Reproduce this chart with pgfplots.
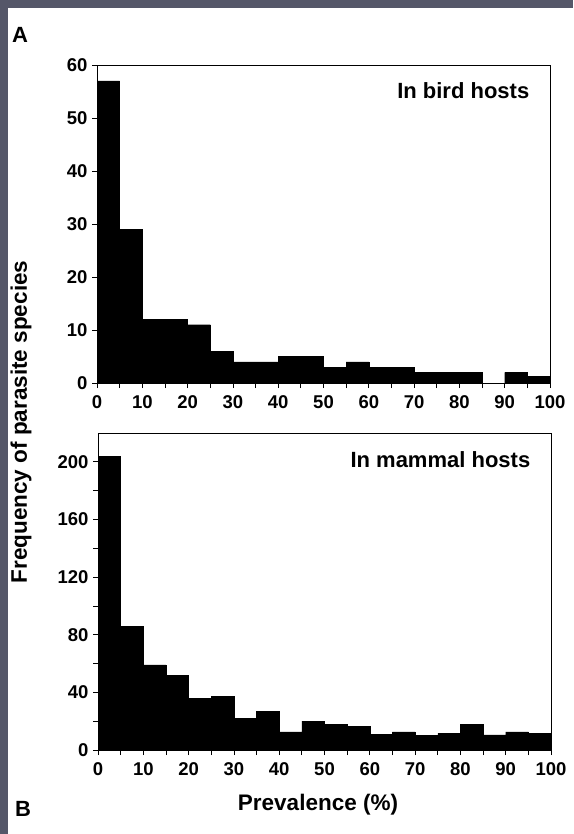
\documentclass[border=0pt]{standalone}
\usepackage{pgfplots}
\pgfplotsset{compat=1.18}
\usepackage{fontspec}
\setmainfont{Liberation Sans}
\definecolor{framegray}{RGB}{85,87,105}
\pgfplotsset{
  hist/.style={
    scale only axis, width=453pt,
    xmin=0, xmax=100, ymin=0,
    xtick={0,10,...,100}, minor xtick={5,15,...,95},
    tick align=outside, xtick pos=bottom, ytick pos=left,
    major tick length=5pt, minor tick length=5pt,
    every tick/.style={black, line width=0.8pt},
    every minor tick/.style={black, line width=0.8pt},
    axis line style={line width=0.9pt},
    tick label style={font=\fontsize{18.5}{18.5}\selectfont\bfseries},
    /pgf/number format/assume math mode=true,
    xticklabel style={yshift=-4pt},
    yticklabel style={xshift=-1pt},
    clip=false,
  }
}
\begin{document}
\begin{tikzpicture}
\fill[framegray] (0,0) rectangle (573pt,-834pt);
\fill[white] (8pt,-8pt) rectangle (573pt,-834pt);
\useasboundingbox (0,0) rectangle (573pt,-834pt);

\begin{axis}[hist, height=318pt, at={(97pt,-383pt)}, anchor=south west,
  ymax=60, ytick={0,10,...,60}]
\addplot[ybar interval, fill=black, draw=black] coordinates {
(0,57) (5,29) (10,12) (15,12) (20,11) (25,6) (30,4) (35,4) (40,5) (45,5)
(50,3) (55,4) (60,3) (65,3) (70,2) (75,2) (80,2) (85,0) (90,2) (95,1.3) (100,1.3)};
\node[anchor=east, font=\fontsize{22}{22}\selectfont\bfseries] at (rel axis cs:0.962,0.918) {In bird hosts};
\end{axis}

\begin{axis}[hist, height=317pt, at={(98pt,-750pt)}, anchor=south west,
  ymax=220, ytick={0,40,...,200}, minor ytick={20,60,...,180}]
\addplot[ybar interval, fill=black, draw=black] coordinates {
(0,204) (5,86) (10,59) (15,52) (20,36) (25,37) (30,22) (35,27) (40,12.5) (45,20)
(50,18) (55,16.5) (60,11) (65,12.5) (70,10) (75,11.5) (80,18) (85,10.5) (90,12.5) (95,11.5) (100,11.5)};
\node[anchor=east, font=\fontsize{22}{22}\selectfont\bfseries] at (rel axis cs:0.962,0.915) {In mammal hosts};
\end{axis}

\node[font=\fontsize{22}{22}\selectfont\bfseries] at (20pt,-35pt) {A};
\node[font=\fontsize{22}{22}\selectfont\bfseries] at (23pt,-809pt) {B};
\node[font=\fontsize{22.5}{22.5}\selectfont\bfseries] at (318pt,-805pt) {Prevalence (\%)};
\node[rotate=90, font=\fontsize{22.5}{22.5}\selectfont\bfseries] at (21pt,-422pt) {Frequency of parasite species};
\end{tikzpicture}
\end{document}
